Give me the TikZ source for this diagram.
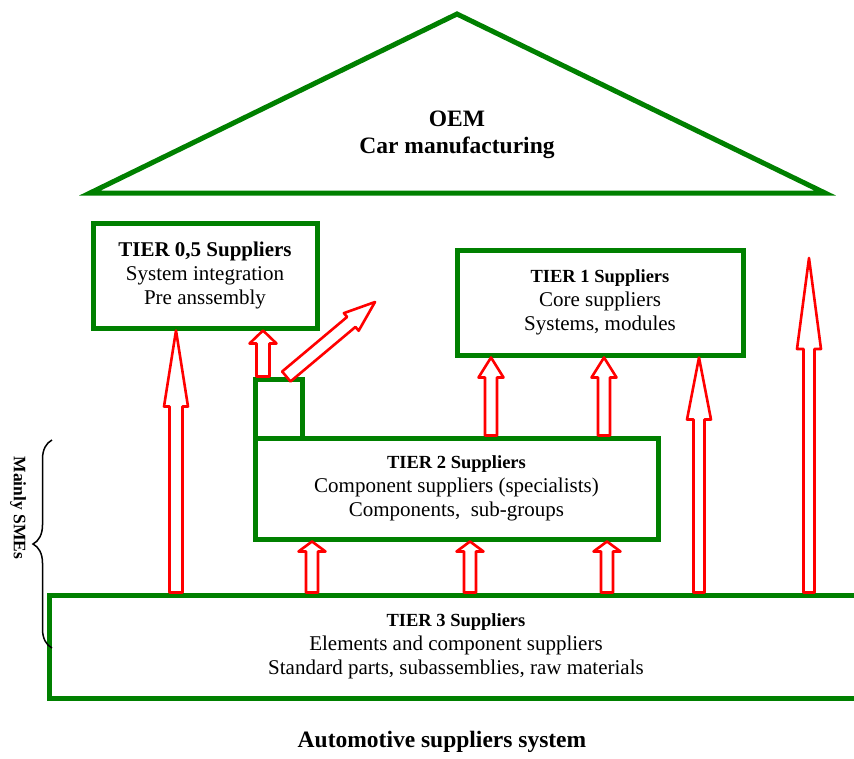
\documentclass[tikz,border=0pt]{standalone}
\usepackage{fontspec}
\setmainfont{Liberation Serif}
\usetikzlibrary{calc, decorations.pathreplacing}

\definecolor{tiergreen}{RGB}{0,128,0}
\definecolor{flowred}{RGB}{255,0,0}

% hollow block arrow: from, to, head length, head half width, shaft half width
\newcommand{\supplyarrow}[5]{%
  \coordinate (hb) at ($(#2)!#3!(#1)$);
  \draw[arr] ($(#1)!#5!90:(#2)$) -- ($(hb)!#5!90:(#2)$) -- ($(hb)!#4!90:(#2)$)
    -- (#2) -- ($(hb)!#4!-90:(#2)$) -- ($(hb)!#5!-90:(#2)$)
    -- ($(#1)!#5!-90:(#2)$) -- cycle;
}

\begin{document}
\begin{tikzpicture}[
  x=1pt, y=-1pt,
  % supplier tier box, size given per node
  box/.style={
    rectangle, draw=tiergreen, line width=5pt,
    fill=white, align=center, inner sep=0pt,
    font=\fontsize{21}{24}\selectfont
  },
  arr/.style={draw=flowred, line width=2.6pt, fill=white, line join=round},
  roof/.style={draw=tiergreen, line width=5pt, line join=miter},
  brace/.style={decorate, decoration={brace, amplitude=19pt}, black, line width=1.5pt},
]
\useasboundingbox (0,0) rectangle (854,758);
\clip (0,0) rectangle (854,758);

%% ── Roof: OEM ─────────────────────────────────────────────────────────────
\draw[roof] (90,193) -- (457,14) -- (825,193) -- cycle;
\node[font=\fontsize{23.5}{27}\selectfont\bfseries, align=center] (oem) at (457,135)
  {OEM\\Car manufacturing};

%% ── Tier boxes ────────────────────────────────────────────────────────────
\node[box, minimum width=224pt, minimum height=105pt] (t05) at (205,275.5) {
  \textbf{TIER 0,5 Suppliers}\\
  System integration\\
  Pre anssembly
};

\node[box, minimum width=286pt, minimum height=105pt] (t1) at (600,302.5) {
  {\fontsize{18.5}{24}\selectfont\bfseries TIER 1 Suppliers}\\
  Core suppliers\\
  Systems, modules
};

\node[box, minimum width=403pt, minimum height=101pt] (t2) at (456.5,488.5) {
  {\fontsize{18.5}{24}\selectfont\bfseries TIER 2 Suppliers}\\
  Component suppliers (specialists)\\
  Components,\ \ sub-groups
};

\node[box, minimum width=47pt, minimum height=59pt] (sq) at (278.5,408.5) {};

\node[box, minimum width=814pt, minimum height=103pt] (t3) at (456,646.5) {
  {\fontsize{18.5}{24}\selectfont\bfseries TIER 3 Suppliers}\\
  Elements and component suppliers\\
  Standard parts, subassemblies, raw materials
};

%% ── Arrow columns ─────────────────────────────────────────────────────────
\coordinate (colA) at (176,0);
\coordinate (colB) at (263,0);
\coordinate (colC) at (312,0);
\coordinate (colD) at (470,0);
\coordinate (colE) at (491,0);
\coordinate (colF) at (604,0);
\coordinate (colG) at (607,0);
\coordinate (colH) at (699,0);
\coordinate (colI) at (809,0);
\coordinate (topI) at (809,258);
\coordinate (diag0) at ($(sq.north)!0.3!(sq.north east)$);
\coordinate (diag1) at (375,302);

%% ── Arrows ────────────────────────────────────────────────────────────────
\supplyarrow{colA |- t3.north}{colA |- t05.south}{76pt}{12pt}{6.5pt}
\supplyarrow{colB |- sq.north}{colB |- t05.south}{13pt}{13.5pt}{6.5pt}
\supplyarrow{diag0}{diag1}{31pt}{11.5pt}{6.5pt}
\supplyarrow{colE |- t2.north}{colE |- t1.south}{20pt}{12.5pt}{6pt}
\supplyarrow{colF |- t2.north}{colF |- t1.south}{20pt}{12.5pt}{6pt}
\supplyarrow{colH |- t3.north}{colH |- t1.south}{62pt}{12pt}{5.5pt}
\supplyarrow{colI |- t3.north}{topI}{91pt}{12pt}{5.5pt}
\supplyarrow{colC |- t3.north}{colC |- t2.south}{10pt}{13.5pt}{6pt}
\supplyarrow{colD |- t3.north}{colD |- t2.south}{10pt}{13.5pt}{6pt}
\supplyarrow{colG |- t3.north}{colG |- t2.south}{10pt}{13.5pt}{6pt}

%% ── SME brace and caption ─────────────────────────────────────────────────
\draw[brace] (52,648) -- (52,440);
\node[rotate=-90, font=\fontsize{17.5}{20}\selectfont\bfseries] (sme) at (18,508) {Mainly SMEs};

\node[font=\fontsize{23.5}{27}\selectfont\bfseries] (caption) at (442,742) {Automotive suppliers system};

\end{tikzpicture}
\end{document}
